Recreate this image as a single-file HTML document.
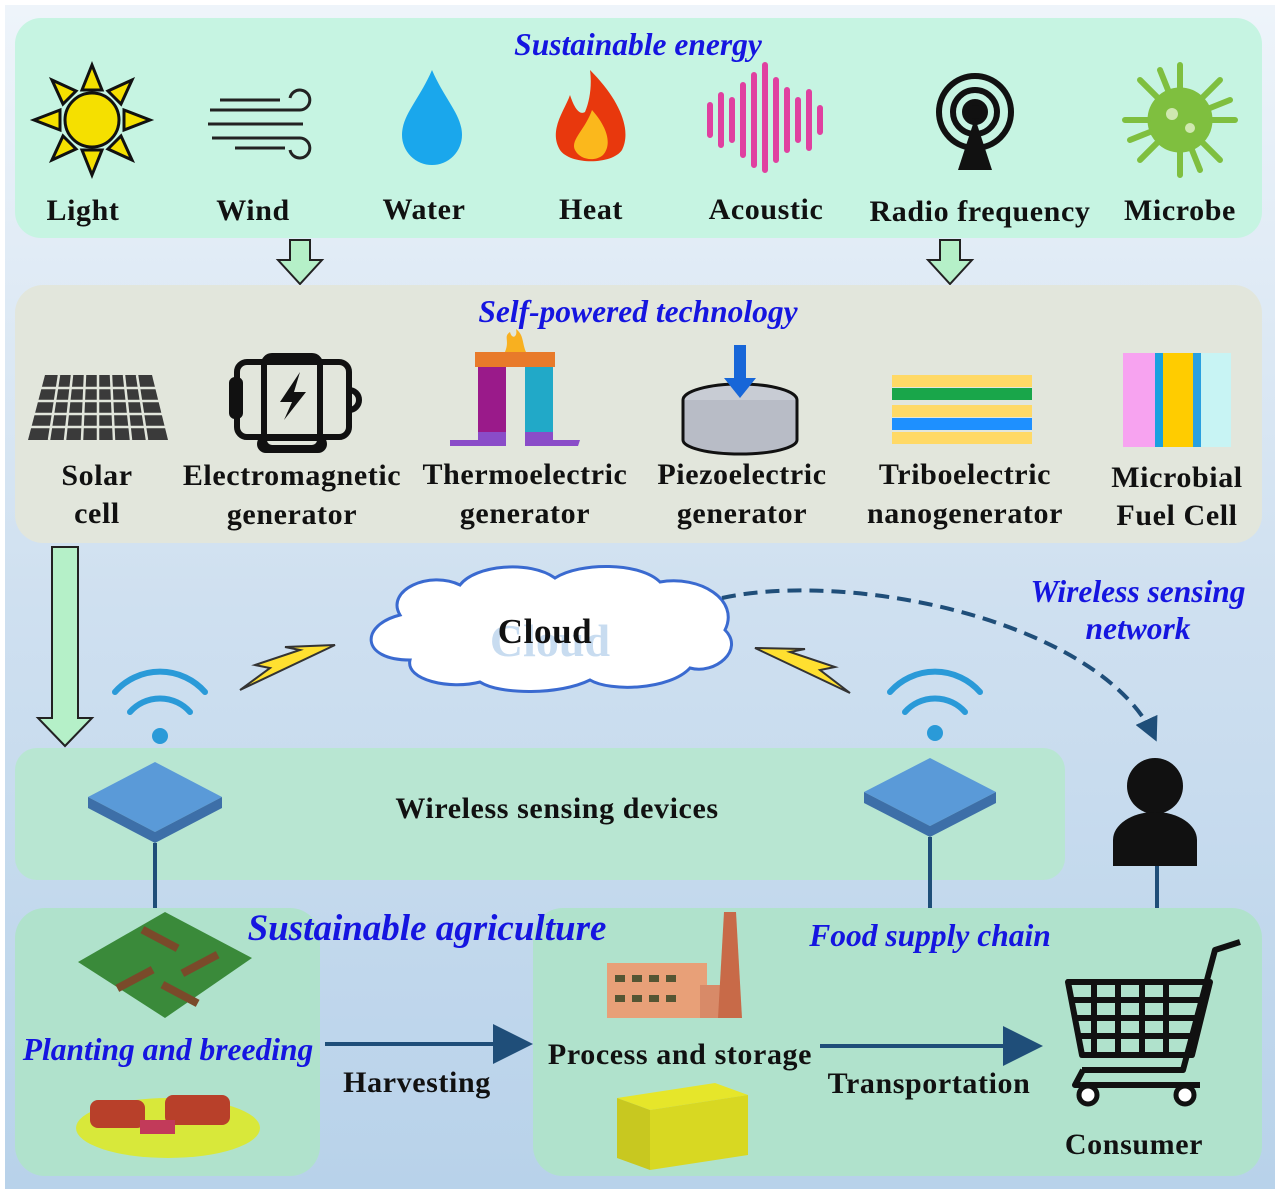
<!DOCTYPE html>
<html><head><meta charset="utf-8"><style>
body{margin:0;width:1280px;height:1194px;overflow:hidden;background:#fff}
svg{display:block}
text{font-family:"Liberation Serif",serif;font-weight:bold}
.l{font-size:30px;letter-spacing:0.6px;fill:#111;text-anchor:middle}
.t{font-size:31.5px;fill:#1515e0;font-style:italic;text-anchor:middle}
</style></head><body>
<svg width="1280" height="1194" viewBox="0 0 1280 1194">
<defs>
<linearGradient id="bg" x1="0" y1="0" x2="0" y2="1"><stop offset="0" stop-color="#eef4fa"/><stop offset="0.5" stop-color="#cfe0f0"/><stop offset="1" stop-color="#b8d2ea"/></linearGradient>
<marker id="ah" markerWidth="10" markerHeight="10" refX="8" refY="5" orient="auto"><path d="M0,0L10,5L0,10z" fill="#1f4e79"/></marker>
<marker id="ah2" markerWidth="6" markerHeight="6" refX="5" refY="3" orient="auto"><path d="M0,0L6,3L0,6z" fill="#1f4e79"/></marker>
</defs>
<rect x="5" y="5" width="1270" height="1184" fill="url(#bg)"/>
<rect x="15" y="18" width="1247" height="220" rx="26" fill="#c6f4e2"/>
<text class="t" x="638" y="55">Sustainable energy</text>
<g transform="translate(92,120)">
<g fill="#f5e000" stroke="#111" stroke-width="3">
<polygon points="0,-55 10,-30 -10,-30"/><polygon points="0,55 10,30 -10,30"/><polygon points="-58,0 -32,10 -32,-10"/><polygon points="58,0 32,10 32,-10"/>
<polygon points="-40,-40 -16,-29 -29,-16"/><polygon points="40,-40 16,-29 29,-16"/><polygon points="-40,40 -16,29 -29,16"/><polygon points="40,40 16,29 29,16"/>
<circle r="27"/></g></g>
<g stroke="#222" stroke-width="3" fill="none">
<path d="M210,110h90a10,10 0 1 0 -10,-12"/><path d="M208,124h95"/><path d="M212,138h88a10,10 0 1 1 -10,12"/><path d="M220,100h60"/><path d="M235,148h50"/></g>
<path d="M432,70C445,100 462,115 462,135A30,30 0 0 1 402,135C402,115 419,100 432,70z" fill="#1aa7ec"/>
<path d="M590,70C620,100 632,130 622,150C612,165 570,165 560,150C548,130 565,110 570,95C575,110 580,115 585,112C590,100 592,85 590,70z" fill="#e8380d"/>
<path d="M592,110C608,128 612,145 603,155C595,162 580,160 575,150C570,140 585,130 592,110z" fill="#fbb81c"/>
<g stroke="#e040a0" stroke-width="6" stroke-linecap="round">
<path d="M710,105v30M721,95v50M732,100v40M743,85v70M754,75v90M765,65v105M776,80v80M787,90v60M798,100v40M809,92v56M820,108v24"/></g>
<g transform="translate(975,112)" fill="none" stroke="#111" stroke-width="6">
<circle r="10" fill="#111"/><circle r="22"/><circle r="36"/></g>
<polygon points="975,118 958,170 992,170" fill="#111"/>
<g transform="translate(1180,120)" fill="#7fbf3f" stroke="#7fbf3f">
<circle r="32"/><g stroke-width="6" stroke-linecap="round">
<path d="M0,-32V-55M0,32V55M-32,0H-55M32,0H55M-23,-23L-40,-40M23,-23L40,-40M-23,23L-40,40M23,23L40,40M-12,-30L-20,-50M12,30L20,50M30,-12L50,-20M-30,12L-50,20"/></g>
<circle r="6" cx="-8" cy="-6" fill="#cfe8b0" stroke="none"/><circle r="5" cx="10" cy="8" fill="#cfe8b0" stroke="none"/></g>
<text class="l" x="83" y="220">Light</text>
<text class="l" x="253" y="220">Wind</text>
<text class="l" x="424" y="219">Water</text>
<text class="l" x="591" y="219">Heat</text>
<text class="l" x="766" y="219">Acoustic</text>
<text class="l" x="980" y="221">Radio frequency</text>
<text class="l" x="1180" y="220">Microbe</text>
<polygon points="290,240 310,240 310,260 322,260 300,284 278,260 290,260" fill="#b5f0c8" stroke="#222" stroke-width="2"/>
<polygon points="940,240 960,240 960,260 972,260 950,284 928,260 940,260" fill="#b5f0c8" stroke="#222" stroke-width="2"/>
<rect x="15" y="285" width="1247" height="258" rx="28" fill="#e2e6dc"/>
<text class="t" x="638" y="322">Self-powered technology</text>
<polygon points="45,375 152,375 168,440 28,440" fill="#3a3a3a"/>
<g stroke="#e2e6dc" stroke-width="2.5">
<path d="M40,388H157M36,401H160M33,414H163M30,427H165"/>
<path d="M59,375L49,440M72,375L65,440M85,375L82,440M98,375L98,440M111,375L114,440M124,375L131,440M137,375L147,440"/></g>
<g fill="none" stroke="#111" stroke-width="6">
<rect x="237" y="362" width="112" height="75" rx="10"/><rect x="264" y="356" width="56" height="92" rx="8"/>
<rect x="232" y="380" width="8" height="36" rx="3"/><path d="M349,390a10,10 0 0 1 0,20"/><rect x="260" y="438" width="64" height="12" rx="6"/></g>
<polygon points="300,372 280,402 292,402 284,420 306,392 294,392" fill="#111"/>
<rect x="475" y="352" width="80" height="15" fill="#e87a2a"/>
<rect x="478" y="367" width="28" height="75" fill="#9a1a8a"/><rect x="525" y="367" width="28" height="75" fill="#21a9c8"/>
<polygon points="450,440 478,440 478,432 506,432 506,446 450,446" fill="#8a4cc8"/><polygon points="525,432 553,432 553,440 580,440 578,446 525,446" fill="#8a4cc8"/>
<path d="M505,352c5,-12 -2,-15 5,-20c2,8 8,5 6,-3c8,6 6,14 10,23z" fill="#f8b020"/>
<ellipse cx="740" cy="400" rx="57" ry="16" fill="#c8ccd4" stroke="#111" stroke-width="3"/>
<path d="M683,400V440A57,14 0 0 0 797,440V400" fill="#b8bcc6" stroke="#111" stroke-width="3"/>
<rect x="734" y="345" width="12" height="35" fill="#1766d8"/><polygon points="724,378 756,378 740,398" fill="#1766d8"/>
<rect x="892" y="375" width="140" height="12" fill="#ffd966"/><rect x="892" y="388" width="140" height="12" fill="#19a64a"/>
<rect x="892" y="405" width="140" height="12" fill="#ffd966"/><rect x="892" y="418" width="140" height="12" fill="#1e90ff"/><rect x="892" y="432" width="140" height="12" fill="#ffd966"/>
<rect x="1123" y="353" width="32" height="94" fill="#f7a3f0"/><rect x="1155" y="353" width="8" height="94" fill="#1aa0e0"/>
<rect x="1163" y="353" width="30" height="94" fill="#ffcc00"/><rect x="1193" y="353" width="8" height="94" fill="#2aa0e0"/><rect x="1201" y="353" width="30" height="94" fill="#c8f4f4"/>
<text class="l" x="97" y="485">Solar</text><text class="l" x="97" y="523">cell</text>
<text class="l" x="292" y="485">Electromagnetic</text><text class="l" x="292" y="524">generator</text>
<text class="l" x="525" y="484">Thermoelectric</text><text class="l" x="525" y="523">generator</text>
<text class="l" x="742" y="484">Piezoelectric</text><text class="l" x="742" y="523">generator</text>
<text class="l" x="965" y="484">Triboelectric</text><text class="l" x="965" y="523">nanogenerator</text>
<text class="l" x="1177" y="487">Microbial</text><text class="l" x="1177" y="525">Fuel Cell</text>
<polygon points="52,547 78,547 78,718 92,718 65,746 38,718 52,718" fill="#b5f0c8" stroke="#222" stroke-width="2"/>
<path d="M400,615C385,590 430,570 460,585C475,565 530,560 555,578C580,562 640,562 660,582C700,575 740,600 725,630C745,650 715,675 690,668C670,690 610,692 590,680C560,695 500,695 480,682C450,690 405,680 410,660C360,660 360,625 400,615z" fill="#fff" stroke="#3a6ad0" stroke-width="3"/>
<text x="550" y="656" style="font-size:46px;fill:#c8dcf0;text-anchor:middle">Cloud</text>
<text class="l" x="545" y="643" style="font-size:35px">Cloud</text>
<polygon points="335,645 240,690 270,668 255,665 300,650 285,647" fill="#ffe030" stroke="#333" stroke-width="2"/>
<polygon points="755,648 850,693 820,670 835,667 790,652 805,649" fill="#ffe030" stroke="#333" stroke-width="2"/>
<text class="t" x="1138" y="602">Wireless sensing</text>
<text class="t" x="1138" y="639">network</text>
<path d="M722,598C850,570 1100,620 1155,738" fill="none" stroke="#1f4e79" stroke-width="4" stroke-dasharray="14,8" marker-end="url(#ah2)"/>
<g fill="none" stroke="#2a9ad8" stroke-width="6" stroke-linecap="round">
<path d="M130,712a40,40 0 0 1 60,0"/><path d="M115,692a60,60 0 0 1 90,0"/>
<path d="M905,712a40,40 0 0 1 60,0"/><path d="M890,692a60,60 0 0 1 90,0"/></g>
<circle cx="160" cy="736" r="8" fill="#2a9ad8"/><circle cx="935" cy="733" r="8" fill="#2a9ad8"/>
<rect x="15" y="748" width="1050" height="132" rx="22" fill="#b8e6d2"/>
<text class="l" x="557" y="818">Wireless sensing devices</text>
<polygon points="155,762 222,797 155,832 88,797" fill="#5a9ad8"/><polygon points="88,797 155,832 222,797 222,808 155,843 88,808" fill="#3d6fa8"/>
<polygon points="930,758 996,792 930,826 864,792" fill="#5a9ad8"/><polygon points="864,792 930,826 996,792 996,803 930,837 864,803" fill="#3d6fa8"/>
<path d="M155,843V910M930,837V910M1157,865V985" stroke="#1f4e79" stroke-width="4"/>
<circle cx="1155" cy="786" r="28" fill="#111"/><path d="M1113,866V840A42,28 0 0 1 1197,840V866z" fill="#111"/>
<rect x="15" y="908" width="305" height="268" rx="30" fill="#b0e2cc"/>
<rect x="533" y="908" width="729" height="268" rx="30" fill="#b0e2cc"/>
<text class="t" x="427" y="940" style="font-size:37px">Sustainable agriculture</text>
<text class="t" x="930" y="946">Food supply chain</text>
<text class="t" x="168" y="1060">Planting and breeding</text>
<polygon points="165,912 252,958 165,1018 78,962" fill="#3a8a3a"/>
<g fill="#7a4a2a"><rect x="140" y="935" width="40" height="8" transform="rotate(28 160 939)"/><rect x="180" y="960" width="40" height="8" transform="rotate(-28 200 964)"/><rect x="115" y="975" width="40" height="8" transform="rotate(-28 135 979)"/><rect x="160" y="990" width="40" height="8" transform="rotate(28 180 994)"/></g>
<ellipse cx="168" cy="1128" rx="92" ry="30" fill="#d8e83a"/>
<rect x="90" y="1100" width="55" height="28" rx="8" fill="#b8402a"/><rect x="165" y="1095" width="65" height="30" rx="8" fill="#b8402a"/>
<rect x="140" y="1120" width="35" height="14" fill="#c23a5a"/>
<path d="M325,1044H525" stroke="#1f4e79" stroke-width="4" marker-end="url(#ah)"/>
<path d="M820,1046H1035" stroke="#1f4e79" stroke-width="4" marker-end="url(#ah)"/>
<text class="l" x="417" y="1092">Harvesting</text>
<text class="l" x="680" y="1064">Process and storage</text>
<text class="l" x="929" y="1093">Transportation</text>
<text class="l" x="1134" y="1154">Consumer</text>
<rect x="607" y="963" width="100" height="55" fill="#e8a078"/><rect x="700" y="985" width="35" height="33" fill="#d88a68"/>
<polygon points="724,912 736,912 742,1018 718,1018" fill="#c86a48"/>
<g fill="#553">
<rect x="615" y="975" width="10" height="7"/><rect x="632" y="975" width="10" height="7"/><rect x="649" y="975" width="10" height="7"/><rect x="666" y="975" width="10" height="7"/>
<rect x="615" y="995" width="10" height="7"/><rect x="632" y="995" width="10" height="7"/><rect x="649" y="995" width="10" height="7"/><rect x="666" y="995" width="10" height="7"/></g>
<polygon points="617,1098 715,1083 748,1095 650,1110" fill="#e6e62a"/>
<polygon points="617,1098 650,1110 650,1170 617,1158" fill="#c8c820"/>
<polygon points="650,1110 748,1095 748,1155 650,1170" fill="#d8d822"/>
<g fill="none" stroke="#111" stroke-width="6" stroke-linejoin="round">
<path d="M1240,942L1215,950L1183,1070H1082"/>
<path d="M1068,982H1210L1192,1055H1082z"/>
<path d="M1070,1000H1205M1074,1018H1200M1078,1036H1196M1094,982V1055M1118,982V1055M1142,982V1055M1166,982V1055"/>
<path d="M1083,1070L1075,1085H1200"/></g>
<circle cx="1088" cy="1095" r="9" fill="#fff" stroke="#111" stroke-width="5"/><circle cx="1185" cy="1095" r="9" fill="#fff" stroke="#111" stroke-width="5"/>
</svg>
</body></html>
